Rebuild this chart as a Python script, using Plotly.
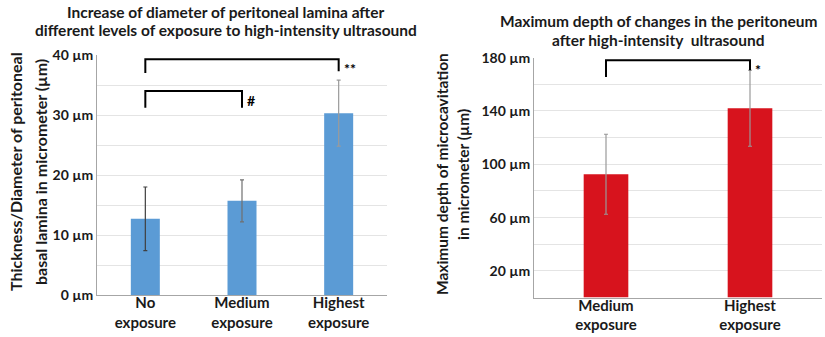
import plotly.graph_objects as go

# ---- data ----
left_categories = ["No<br>exposure", "Medium<br>exposure", "Highest<br>exposure"]
left_values = [12.7, 15.7, 30.3]
left_errors = [5.3, 3.5, 5.5]
left_err_colors = ["#404040", "#707070", "#9a9a9a"]

right_categories = ["Medium<br>exposure", "Highest<br>exposure"]
right_values = [92.5, 142.0]
right_errors = [30.0, 28.5]

left_tickvals = [0, 10, 20, 30, 40]
left_ticktext = ["0 µm", "10 µm", "20 µm", "30 µm", "40 µm"]
right_tickvals = [20, 60, 100, 140, 180]
right_ticktext = ["20 µm", "60 µm", "100 µm", "140 µm", "180 µm"]

# brackets: (from category idx, to category idx, top y, bottom-left y, bottom-right y, label)
left_brackets = [(0, 2, 39.3, 37.0, 37.3, "**"), (0, 1, 34.0, 31.2, 31.2, "#")]
right_brackets = [(0, 1, 178.0, 165.5, 170.5, "*")]

left_title_lines = ["Increase of diameter of peritoneal lamina after",
                    "different levels of exposure to high-intensity ultrasound"]
right_title_lines = ["Maximum depth of changes in the peritoneum",
                     "after high-intensity  ultrasound"]
left_ytitle_lines = ["Thickness/Diameter of peritoneal", "basal lamina in micrometer (µm)"]
right_ytitle_lines = ["Maximum depth of microcavitation", "in micrometer (µm)"]

FONT = "Lato"
BLUE = "#5B9BD5"
RED = "#D7131D"
TXT = "#1a1a1a"

fig = go.Figure()

for i, (c, v, e) in enumerate(zip(left_categories, left_values, left_errors)):
    fig.add_trace(go.Bar(
        x=[i], y=[v], width=0.3, marker=dict(color=BLUE, line=dict(width=0)),
        error_y=dict(type="data", array=[e], color=left_err_colors[i], thickness=1.2, width=2),
        xaxis="x", yaxis="y", showlegend=False, hoverinfo="skip"))

for i, (c, v, e) in enumerate(zip(right_categories, right_values, right_errors)):
    fig.add_trace(go.Bar(
        x=[i], y=[v], width=0.31, marker=dict(color=RED, line=dict(width=0)),
        error_y=dict(type="data", array=[e], color="#999999", thickness=1.2, width=2),
        xaxis="x2", yaxis="y2", showlegend=False, hoverinfo="skip"))

shapes = []
annotations = []

def add_brackets(brackets, xref, yref):
    for a, b, top, bl, br, lab in brackets:
        shapes.append(dict(type="path", xref=xref, yref=yref,
                           path=f"M {a},{bl} L {a},{top} L {b},{top} L {b},{br}",
                           line=dict(color="black", width=2)))
        annotations.append(dict(x=b, y=top, xref=xref, yref=yref, text=f"<b>{lab}</b>", showarrow=False,
                                xanchor="left", yanchor="top", xshift=3, yshift=1,
                                font=dict(family=FONT, size=14, color="black")))

add_brackets(left_brackets, "x", "y")
add_brackets(right_brackets, "x2", "y2")

def text_line(x_px, y_px, text, size, angle=0):
    annotations.append(dict(x=x_px / 825, y=1 - y_px / 337, xref="paper", yref="paper",
                            text=f"<b>{text}</b>", showarrow=False, xanchor="center", yanchor="middle",
                            textangle=angle, font=dict(family=FONT, size=size, color=TXT)))

# chart titles
text_line(226, 12, left_title_lines[0], 15.5)
text_line(226, 30, left_title_lines[1], 15.5)
text_line(658, 21, right_title_lines[0], 15.5)
text_line(658, 40, right_title_lines[1], 15.5)
# y-axis titles
text_line(15, 172, left_ytitle_lines[0], 16, -90)
text_line(40, 172, left_ytitle_lines[1], 16, -90)
text_line(442, 174, right_ytitle_lines[0], 15.5, -90)
text_line(463, 174, right_ytitle_lines[1], 15.5, -90)

grid = "#e4e4e4"
tickfont = dict(family=FONT, size=14, color=TXT)
catfont = dict(family=FONT, size=15, color=TXT)

fig.update_layout(
    width=825, height=337,
    margin=dict(l=0, r=0, t=0, b=0, autoexpand=False),
    paper_bgcolor="white", plot_bgcolor="white",
    barmode="overlay", hovermode=False,
    shapes=shapes, annotations=annotations,
    xaxis=dict(domain=[97 / 825, 387 / 825], range=[-0.5, 2.5],
               tickvals=[0, 1, 2], ticktext=[f"<b>{c}</b>" for c in left_categories],
               tickfont=catfont, automargin=False, ticklabelstandoff=-6,
               showline=True, linecolor="#a6a6a6", linewidth=1, showgrid=False,
               ticks="", fixedrange=True, anchor="y"),
    yaxis=dict(domain=[42 / 337, 282 / 337], range=[0, 40],
               tickvals=left_tickvals, ticktext=[f"<b>{t}</b>" for t in left_ticktext],
               tickfont=tickfont, showgrid=True, gridcolor=grid, gridwidth=1, automargin=False,
               minor=dict(dtick=5, showgrid=True, gridcolor=grid, gridwidth=1),
               showline=True, linecolor="#a6a6a6", linewidth=1, zeroline=False,
               ticks="", anchor="x", fixedrange=True),
    xaxis2=dict(domain=[534 / 825, 822 / 825], range=[-0.5, 1.5],
                tickvals=[0, 1], ticktext=[f"<b>{c}</b>" for c in right_categories],
                tickfont=catfont, automargin=False, ticklabelstandoff=-6,
                showline=True, linecolor="#a6a6a6", linewidth=1, showgrid=False,
                ticks="", fixedrange=True, anchor="y2"),
    yaxis2=dict(domain=[39.4 / 337, 279.4 / 337], range=[0, 180],
                tickvals=right_tickvals, ticktext=[f"<b>{t}</b>" for t in right_ticktext],
                tickfont=tickfont, showgrid=True, gridcolor=grid, gridwidth=1, automargin=False,
                minor=dict(tickvals=[0, 40, 80, 120, 160], showgrid=True, gridcolor=grid, gridwidth=1),
                showline=True, linecolor="#a6a6a6", linewidth=1, zeroline=False,
                ticks="", anchor="x2", fixedrange=True),
)

fig.write_html("out.html", config={"displayModeBar": False, "staticPlot": True},
               post_script="document.body.style.margin='0';document.body.style.overflow='hidden';")
